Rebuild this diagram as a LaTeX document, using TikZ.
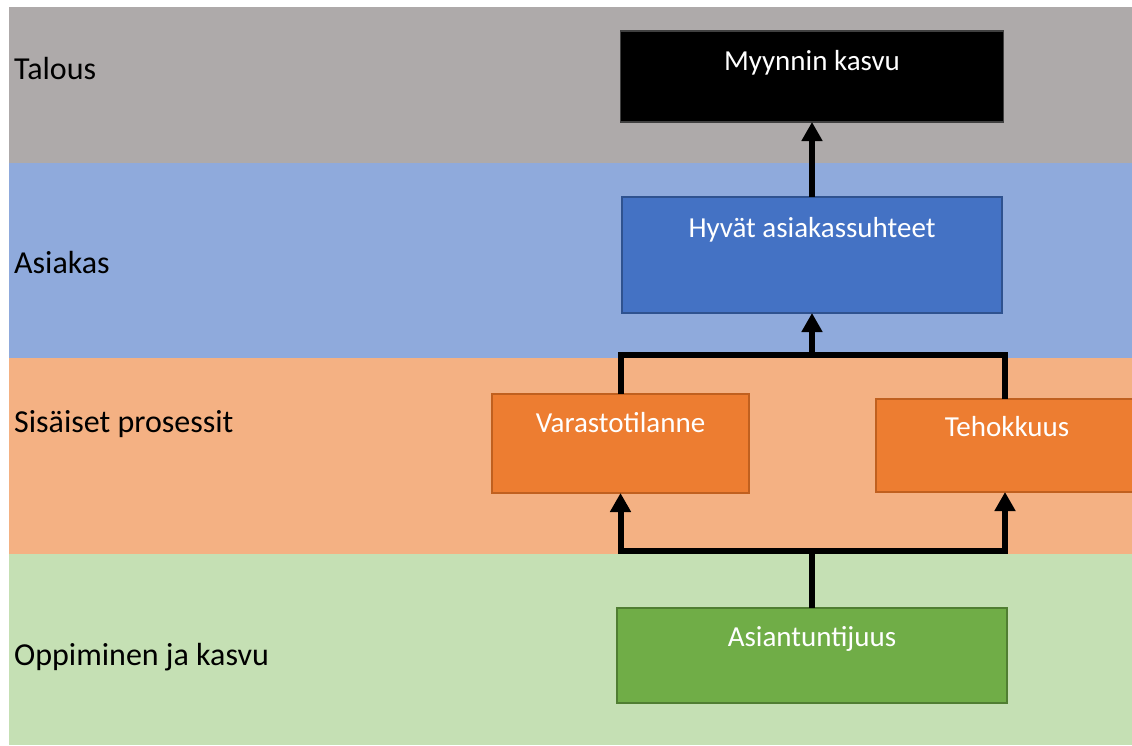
\documentclass[tikz,border=0pt]{standalone}
\usepackage{fontspec}
\setmainfont{Carlito}
\usetikzlibrary{arrows.meta}
\definecolor{bandgray}{HTML}{AEAAAA}
\definecolor{bandblue}{HTML}{8FAADC}
\definecolor{bandorange}{HTML}{F4B183}
\definecolor{bandgreen}{HTML}{C5E0B4}
\definecolor{boxblue}{HTML}{4472C4}
\definecolor{edgeblue}{HTML}{2F528F}
\definecolor{boxorange}{HTML}{ED7D31}
\definecolor{edgeorange}{HTML}{C0601F}
\definecolor{boxgreen}{HTML}{70AD47}
\definecolor{edgegreen}{HTML}{507E32}
\definecolor{edgeblack}{HTML}{404040}
\begin{document}
\begin{tikzpicture}[x=1pt,y=-1pt,
  band/.style={fill=#1,draw=none},
  bandlabel/.style={anchor=base west,inner sep=0pt,text=black,font=\fontsize{32}{38}\selectfont},
  kpibox/.style={draw=#1,line width=1.5pt,rectangle,anchor=north west,inner sep=0pt,outer sep=0pt},
  boxtext/.style={anchor=base,inner sep=0pt,text=white,font=\fontsize{29}{34}\selectfont},
  link/.style={line width=6pt,draw=black,line join=miter},
  arrowlink/.style={link,-{Triangle[length=19pt,width=20pt]}}]
\useasboundingbox (0,0) rectangle (1132,745);
\fill[white] (0,0) rectangle (1132,745);
% bands
\fill[band=bandgray]   (9,7)   rectangle (1132,163);
\fill[band=bandblue]   (9,163) rectangle (1132,358);
\fill[band=bandorange] (9,358) rectangle (1132,554);
\fill[band=bandgreen]  (9,554) rectangle (1132,745);
% band labels
\node[bandlabel] (lt) at (14,79)  {Talous};
\node[bandlabel] (la) at (14,273) {Asiakas};
\node[bandlabel] (ls) at (14,432) {Sisäiset prosessit};
\node[bandlabel] (lo) at (14,665) {Oppiminen ja kasvu};
% boxes
\node[kpibox=edgeblack,fill=black,minimum width=383pt,minimum height=91pt] (myy) at (620.5,31) {};
\node[kpibox=edgeblue,fill=boxblue,minimum width=380pt,minimum height=116pt] (hyv) at (622,197) {};
\node[kpibox=edgeorange,fill=boxorange,minimum width=257pt,minimum height=99pt] (var) at (492,394) {};
\node[kpibox=edgeorange,fill=boxorange,minimum width=258pt,minimum height=93pt] (teh) at (876,399) {};
\node[kpibox=edgegreen,fill=boxgreen,minimum width=390pt,minimum height=95pt] (asi) at (617,608) {};
% box texts
\node[boxtext] (myyt) at (812,70)   {Myynnin kasvu};
\node[boxtext] (hyvt) at (812,237)  {Hyvät asiakassuhteet};
\node[boxtext] (vart) at (620.5,432) {Varastotilanne};
\node[boxtext] (teht) at (1007,436) {Tehokkuus};
\node[boxtext] (asit) at (812,646)  {Asiantuntijuus};
% connectors
\coordinate (jtop) at (812,355);
\coordinate (jbot) at (812,551);
\draw[arrowlink] (hyv.north) -- (myy.south);
\draw[link] (var.north) |- (jtop);
\draw[link] (teh.north) |- (jtop);
\draw[arrowlink] (jtop) -- (hyv.south);
\draw[link] (asi.north) -- (jbot);
\draw[arrowlink] (jbot) -| (var.south);
\draw[arrowlink] (jbot) -| (teh.south);
\end{tikzpicture}
\end{document}
